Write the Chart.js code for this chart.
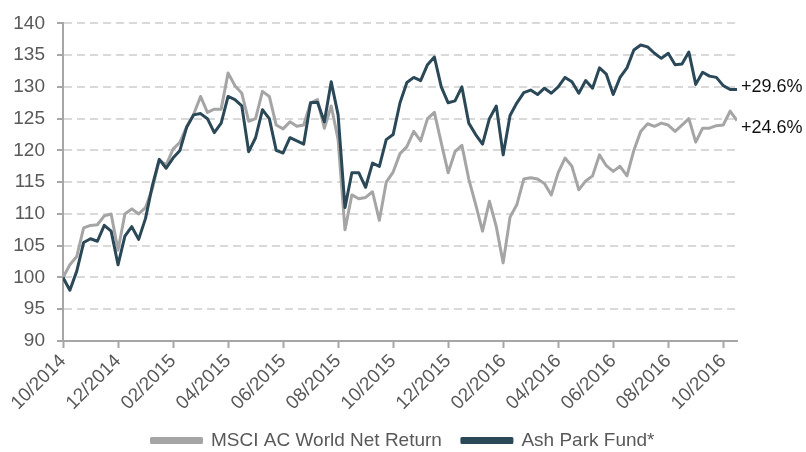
<!DOCTYPE html>
<html>
<head>
<meta charset="utf-8">
<script src="https://cdn.jsdelivr.net/npm/chart.js@4.4.0/dist/chart.umd.min.js"></script>
<style>
  html, body { margin: 0; padding: 0; background: #fff; }
  #wrap { width: 806px; height: 452px; }
</style>
</head>
<body>
<div id="wrap"><canvas id="myChart" width="806" height="452"></canvas></div>
<script>
// tick labels, one every 2 months
const monthLabels = ["10/2014", "12/2014", "02/2015", "04/2015", "06/2015", "08/2015", "10/2015",
  "12/2015", "02/2016", "04/2016", "06/2016", "08/2016", "10/2016"];

// values read every quarter month, starting 10/2014 (rebased to 100)
const msciValues = [
  100, 102, 103.3, 107.8, 108.2, 108.3, 109.7, 110, 104.3, 110,
  110.8, 110, 111, 114, 118.5, 117.7, 120.2, 121.3, 123.8, 125.7,
  128.5, 126, 126.5, 126.5, 132.2, 130.2, 129, 124.6, 125, 129.3,
  128.5, 124, 123.4, 124.5, 123.8, 124, 127.5, 128, 123.5, 127,
  121.7, 107.5, 113, 112.4, 112.6, 113.5, 109, 115, 116.6, 119.5,
  120.6, 123, 121.5, 125, 126, 121.2, 116.5, 119.8, 120.8, 115.5,
  111.5, 107.3, 112, 108, 102.3, 109.5, 111.5, 115.5, 115.7, 115.5,
  114.8, 113, 116.5, 118.8, 117.5, 113.8, 115.2, 116, 119.3, 117.6,
  116.7, 117.5, 116, 120, 123, 124.2, 123.8, 124.3, 124, 123,
  124, 125, 121.3, 123.5, 123.5, 123.9, 124, 126.2, 124.7
];
const ashParkValues = [
  100, 98, 101, 105.5, 106.1, 105.7, 108.2, 107.3, 102, 106.5,
  108, 106, 109.3, 114.5, 118.6, 117.2, 118.8, 120, 123.7, 125.6,
  125.8, 125, 122.8, 124.3, 128.5, 128, 127, 119.8, 122, 126.4,
  125, 120, 119.6, 122, 121.5, 121, 127.5, 127.6, 124.5, 130.8,
  125.6, 111, 116.5, 116.5, 114.2, 118, 117.5, 121.7, 122.5, 127.5,
  130.7, 131.5, 131, 133.5, 134.7, 130, 127.5, 127.8, 130, 124.3,
  122.5, 121, 125, 127, 119.3, 125.5, 127.5, 129.1, 129.5, 128.8,
  129.8, 129, 130, 131.5, 130.8, 129, 131, 129.8, 133, 132,
  128.8, 131.5, 133, 135.8, 136.6, 136.3, 135.3, 134.5, 135.3, 133.5,
  133.6, 135.5, 130.4, 132.3, 131.7, 131.5, 130.2, 129.6, 129.6
];
const endLabels = ["+24.6%", "+29.6%"];

const toPoints = (values) => values.map((v, i) => ({ x: i / 4, y: v }));

Chart.defaults.font.family = "'Liberation Sans', Arial, sans-serif";
Chart.defaults.font.size = 19;
Chart.defaults.color = "#595959";

// writes the total return next to the last point of each line
const endLabelPlugin = {
  id: "endLabels",
  afterDatasetsDraw(chart) {
    const ctx = chart.ctx;
    ctx.save();
    ctx.font = "18px 'Liberation Sans', Arial, sans-serif";
    ctx.fillStyle = "#111";
    ctx.textBaseline = "middle";
    chart.data.datasets.forEach((ds, i) => {
      const meta = chart.getDatasetMeta(i);
      const last = meta.data[meta.data.length - 1];
      const shift = i === 0 ? 7 : -2;
      ctx.fillText(endLabels[i], last.x + 4, last.y + shift);
    });
    ctx.restore();
  },
};

const ctx = document.getElementById("myChart").getContext("2d");
new Chart(ctx, {
  type: "line",
  data: {
    datasets: [
      {
        label: "MSCI AC World Net Return",
        data: toPoints(msciValues),
        borderColor: "#a5a5a5",
        backgroundColor: "#a5a5a5",
        order: 1,
      },
      {
        label: "Ash Park Fund*",
        data: toPoints(ashParkValues),
        borderColor: "#2a4857",
        backgroundColor: "#2a4857",
        order: 0,
      },
    ],
  },
  options: {
    responsive: false,
    animation: false,
    devicePixelRatio: 1,
    layout: { padding: { top: 19, right: 0, bottom: -8, left: 0 } },
    elements: {
      line: { borderWidth: 3, tension: 0, borderJoinStyle: "round" },
      point: { radius: 0 },
    },
    scales: {
      x: {
        type: "linear",
        min: 0,
        max: 24.5,
        afterBuildTicks: (scale) => {
          scale.ticks = monthLabels.map((l, i) => ({ value: i * 2 }));
        },
        afterFit: (scale) => {
          scale.height = 70;
          scale.paddingRight = 69; // room for the end labels
        },
        ticks: {
          autoSkip: false,
          minRotation: 45,
          maxRotation: 45,
          padding: 2,
          callback: (value) => monthLabels[value / 2],
        },
        grid: {
          drawOnChartArea: false,
          drawTicks: true,
          tickLength: 7,
          tickColor: "#a6a6a6",
          tickWidth: 2,
        },
        border: { display: true, color: "#a6a6a6", width: 2 },
      },
      y: {
        min: 90,
        max: 140,
        afterFit: (scale) => { scale.width = 63; },
        ticks: { stepSize: 5, padding: 12 },
        grid: {
          color: "#d9d9d9",
          lineWidth: 2,
          tickLength: 6,
          tickColor: "#a6a6a6",
          tickWidth: 2,
          tickBorderDash: [],
        },
        border: { display: true, color: "#a6a6a6", width: 2, dash: [8, 5] },
      },
    },
    plugins: {
      tooltip: { enabled: false },
      legend: {
        position: "bottom",
        labels: {
          boxWidth: 50,
          boxHeight: 4,
          padding: 20,
          color: "#595959",
          font: { size: 19 },
          sort: (a, b) => a.datasetIndex - b.datasetIndex,
        },
      },
    },
  },
  plugins: [endLabelPlugin],
});
</script>
</body>
</html>
